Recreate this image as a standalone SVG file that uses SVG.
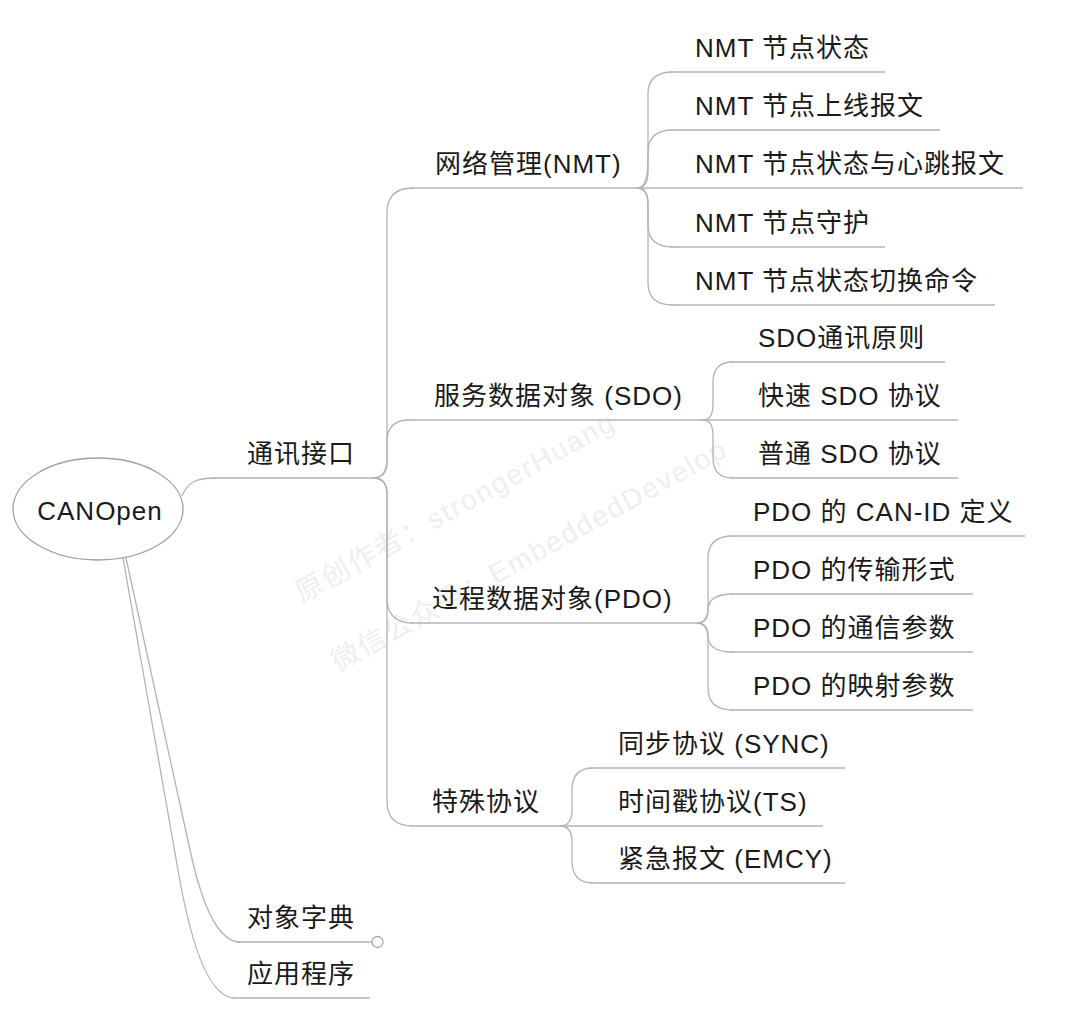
<svg xmlns="http://www.w3.org/2000/svg" width="1073" height="1026" viewBox="0 0 1073 1026">
<style>
.t{font-family:"Liberation Sans","Noto Sans CJK SC",sans-serif;font-size:26px;letter-spacing:1px;fill:#1a1a1a}
.wm{font-family:"Liberation Sans","Noto Sans CJK SC",sans-serif;font-size:28px;letter-spacing:2px;fill:#eeeeee}
.u{stroke:#b3b3b3;stroke-width:1.3;fill:none}
.c{stroke:#b3b3b3;stroke-width:1.3;fill:none}
</style>
<rect width="1073" height="1026" fill="#ffffff"/>
<g id="watermark">
<text class="wm" transform="translate(302,603) rotate(-29)">原创作者：strongerHuang</text>
<text class="wm" transform="translate(338,672) rotate(-29)">微信公众号：EmbeddedDevelop</text>
</g>
<g id="connectors">
<path class="c" d="M182,496 C188,482 196,478 215,478"/>
<path class="c" d="M126,558 L190,850 Q210,942 240,942"/>
<path class="c" d="M123,558 L178,870 Q200,998 235,998"/>
<path class="c" d="M373,478 Q387,478 387,458 L387,213 Q387,188 413,188"/>
<path class="c" d="M373,478 Q387,478 387,462 L387,442 Q387,420 409,420"/>
<path class="c" d="M373,478 Q387,478 387,494 L387,598 Q387,623 413,623"/>
<path class="c" d="M373,478 Q387,478 387,494 L387,801 Q387,826 413,826"/>
<path class="c" d="M637,188 Q648,188 648,160 L648,152 Q648,130 673,130"/>
<path class="c" d="M637,188 Q648,188 648,172 L648,94 Q648,72 673,72"/>
<path class="c" d="M637,188 Q648,188 648,204 L648,225 Q648,247 673,247"/>
<path class="c" d="M637,188 Q648,188 648,204 L648,283 Q648,305 673,305"/>
<path class="c" d="M703,420 Q713,420 713,404 L713,382 Q713,362 733,362"/>
<path class="c" d="M703,420 Q713,420 713,436 L713,458 Q713,478 733,478"/>
<path class="c" d="M697,623 Q708,623 708,607 L708,558 Q708,536 733,536"/>
<path class="c" d="M697,623 Q708,623 708,610 Q708,594 733,594"/>
<path class="c" d="M697,623 Q708,623 708,636 Q708,652 733,652"/>
<path class="c" d="M697,623 Q708,623 708,639 L708,688 Q708,710 733,710"/>
<path class="c" d="M560,826 Q572,826 572,810 L572,790 Q572,768 593,768"/>
<path class="c" d="M560,826 Q572,826 572,842 L572,861 Q572,883 593,883"/>
</g>
<g id="n-root">
<ellipse cx="98" cy="509" rx="85" ry="51" fill="#ffffff" stroke="#a0a0a0" stroke-width="1.3"/>
<text class="t" x="100" y="520" text-anchor="middle">CANOpen</text>
</g>
<g id="n-comm">
<line class="u" x1="213" y1="478" x2="373" y2="478"/>
<text class="t" x="247" y="463">通讯接口</text>
</g>
<g id="n-dict">
<line class="u" x1="238" y1="942" x2="372" y2="942"/>
<circle cx="377.5" cy="942" r="5.5" fill="#ffffff" stroke="#a8a8a8" stroke-width="1.3"/>
<text class="t" x="247" y="927">对象字典</text>
</g>
<g id="n-app">
<line class="u" x1="233" y1="998" x2="370" y2="998"/>
<text class="t" x="247" y="983">应用程序</text>
</g>
<g id="n-nmt">
<line class="u" x1="411" y1="188" x2="637" y2="188"/>
<text class="t" x="435" y="173">网络管理(NMT)</text>
</g>
<g id="n-sdo">
<line class="u" x1="407" y1="420" x2="703" y2="420"/>
<text class="t" x="434" y="405">服务数据对象 (SDO)</text>
</g>
<g id="n-pdo">
<line class="u" x1="411" y1="623" x2="697" y2="623"/>
<text class="t" x="432" y="608">过程数据对象(PDO)</text>
</g>
<g id="n-special">
<line class="u" x1="411" y1="826" x2="560" y2="826"/>
<text class="t" x="432" y="811">特殊协议</text>
</g>
<g id="n-nmt1">
<line class="u" x1="671" y1="72" x2="885" y2="72"/>
<text class="t" x="695" y="57">NMT 节点状态</text>
</g>
<g id="n-nmt2">
<line class="u" x1="671" y1="130" x2="940" y2="130"/>
<text class="t" x="695" y="115">NMT 节点上线报文</text>
</g>
<g id="n-nmt3">
<line class="u" x1="637" y1="188" x2="1023" y2="188"/>
<text class="t" x="695" y="173">NMT 节点状态与心跳报文</text>
</g>
<g id="n-nmt4">
<line class="u" x1="671" y1="247" x2="885" y2="247"/>
<text class="t" x="695" y="232">NMT 节点守护</text>
</g>
<g id="n-nmt5">
<line class="u" x1="671" y1="305" x2="995" y2="305"/>
<text class="t" x="695" y="290">NMT 节点状态切换命令</text>
</g>
<g id="n-sdo1">
<line class="u" x1="731" y1="362" x2="945" y2="362"/>
<text class="t" x="758" y="347">SDO通讯原则</text>
</g>
<g id="n-sdo2">
<line class="u" x1="703" y1="420" x2="958" y2="420"/>
<text class="t" x="758" y="405">快速 SDO 协议</text>
</g>
<g id="n-sdo3">
<line class="u" x1="731" y1="478" x2="958" y2="478"/>
<text class="t" x="758" y="463">普通 SDO 协议</text>
</g>
<g id="n-pdo1">
<line class="u" x1="731" y1="536" x2="1025" y2="536"/>
<text class="t" x="753" y="521">PDO 的 CAN-ID 定义</text>
</g>
<g id="n-pdo2">
<line class="u" x1="731" y1="594" x2="973" y2="594"/>
<text class="t" x="753" y="579">PDO 的传输形式</text>
</g>
<g id="n-pdo3">
<line class="u" x1="731" y1="652" x2="973" y2="652"/>
<text class="t" x="753" y="637">PDO 的通信参数</text>
</g>
<g id="n-pdo4">
<line class="u" x1="731" y1="710" x2="973" y2="710"/>
<text class="t" x="753" y="695">PDO 的映射参数</text>
</g>
<g id="n-sync">
<line class="u" x1="591" y1="768" x2="845" y2="768"/>
<text class="t" x="618" y="753">同步协议 (SYNC)</text>
</g>
<g id="n-ts">
<line class="u" x1="560" y1="826" x2="823" y2="826"/>
<text class="t" x="618" y="811">时间戳协议(TS)</text>
</g>
<g id="n-emcy">
<line class="u" x1="591" y1="883" x2="845" y2="883"/>
<text class="t" x="618" y="868">紧急报文 (EMCY)</text>
</g>
</svg>
